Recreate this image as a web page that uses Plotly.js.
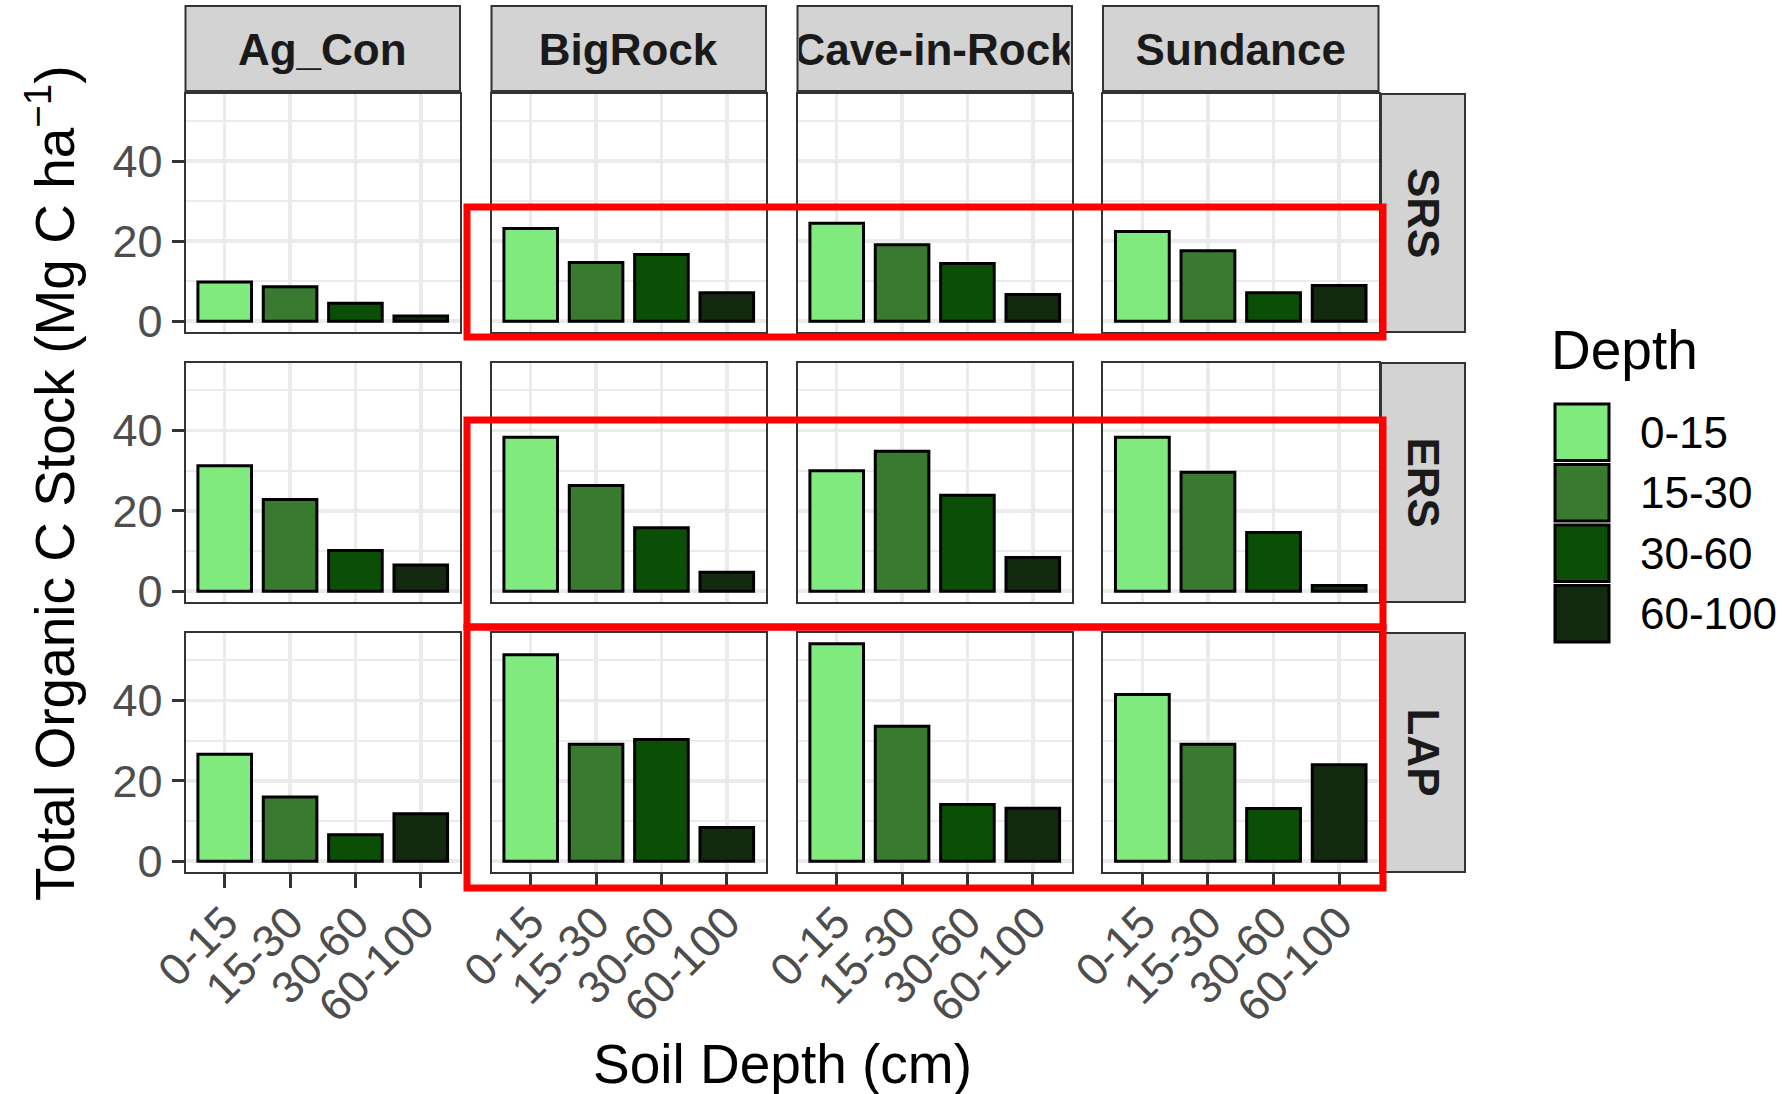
<!DOCTYPE html>
<html>
<head>
<meta charset="utf-8">
<script src="https://cdn.plot.ly/plotly-3.0.1.min.js"></script>
<style>html,body{margin:0;padding:0;background:#fff;}#chart{width:1785px;height:1094px;}</style>
</head>
<body>
<div id="chart"></div>
<script>
// ---- data ----
const depths = ['0-15', '15-30', '30-60', '60-100'];
const sites = ['Ag_Con', 'BigRock', 'Cave-in-Rock', 'Sundance'];
const treatments = ['SRS', 'ERS', 'LAP'];
const depthColors = ['#81ea7e', '#3a7a30', '#0a4f05', '#132a10'];

const SRS_AgCon = [9.8, 8.6, 4.5, 1.3];
const SRS_BigRock = [23.2, 14.7, 16.7, 7.1];
const SRS_CaveInRock = [24.5, 19.1, 14.4, 6.7];
const SRS_Sundance = [22.4, 17.6, 7.1, 8.9];

const ERS_AgCon = [31.2, 22.8, 10.1, 6.5];
const ERS_BigRock = [38.3, 26.3, 15.8, 4.7];
const ERS_CaveInRock = [30.0, 34.8, 23.9, 8.4];
const ERS_Sundance = [38.3, 29.6, 14.6, 1.4];

const LAP_AgCon = [26.6, 16.0, 6.6, 11.8];
const LAP_BigRock = [51.4, 29.1, 30.3, 8.4];
const LAP_CaveInRock = [54.1, 33.6, 14.1, 13.2];
const LAP_Sundance = [41.5, 29.1, 13.1, 24.0];

const yTicks = [0, 20, 40];
const yMinorTicks = [10, 30, 50];

const rowsData = [
  [SRS_AgCon, SRS_BigRock, SRS_CaveInRock, SRS_Sundance],
  [ERS_AgCon, ERS_BigRock, ERS_CaveInRock, ERS_Sundance],
  [LAP_AgCon, LAP_BigRock, LAP_CaveInRock, LAP_Sundance]
];

// ---- layout geometry (pixels) ----
const W = 1785, H = 1094;
const px = v => v / W;
const py = v => 1 - v / H;
const colPx = [[185.5, 460], [491.5, 766], [797.5, 1072], [1103, 1378.5]];
const rowPx = [[94, 332], [363, 602], [633, 872]];
const FONT = 'Liberation Sans, Arial, Helvetica, sans-serif';

const traces = [];
const layout = {
  width: W, height: H,
  margin: {l: 0, r: 0, t: 0, b: 0},
  paper_bgcolor: '#ffffff', plot_bgcolor: '#ffffff',
  showlegend: false,
  barmode: 'overlay',
  font: {family: FONT, color: '#000000'},
  shapes: [], annotations: []
};

for (let r = 0; r < 3; r++) {
  for (let c = 0; c < 4; c++) {
    const i = r * 4 + c;
    const sfx = i === 0 ? '' : String(i + 1);
    traces.push({
      type: 'bar',
      x: depths,
      y: rowsData[r][c],
      xaxis: 'x' + sfx,
      yaxis: 'y' + sfx,
      width: 0.82,
      marker: {color: depthColors, line: {color: '#000000', width: 3}},
      hoverinfo: 'x+y',
      showlegend: false
    });
    layout['xaxis' + sfx] = {
      domain: [px(colPx[c][0]), px(colPx[c][1])],
      anchor: 'y' + sfx,
      type: 'category',
      categoryorder: 'array', categoryarray: depths,
      range: [-0.6, 3.6],
      showgrid: true, gridcolor: '#ebebeb', gridwidth: 3.5,
      showline: true, mirror: true, linecolor: '#333333', linewidth: 2,
      ticks: r === 2 ? 'outside' : '', ticklen: 14, tickwidth: 3, tickcolor: '#333333',
      showticklabels: r === 2,
      tickangle: -45,
      ticklabelstandoff: -10,
      tickfont: {family: FONT, size: 45, color: '#4d4d4d'},
      zeroline: false, fixedrange: true
    };
    layout['yaxis' + sfx] = {
      domain: [py(rowPx[r][1]), py(rowPx[r][0])],
      anchor: 'x' + sfx,
      range: [-2.7, 56.8],
      tickmode: 'array', tickvals: yTicks, ticktext: yTicks.map(String),
      showgrid: true, gridcolor: '#ebebeb', gridwidth: 3.5,
      minor: {tickmode: 'array', tickvals: yMinorTicks, showgrid: true, gridcolor: '#ebebeb', gridwidth: 1.8, ticks: ''},
      showline: true, mirror: true, linecolor: '#333333', linewidth: 2,
      ticks: c === 0 ? 'outside' : '', ticklen: 12, tickwidth: 3, tickcolor: '#333333',
      showticklabels: c === 0,
      tickfont: {family: FONT, size: 45, color: '#4d4d4d'},
      zeroline: false, fixedrange: true
    };
  }
}

// strips (top)
for (let c = 0; c < 4; c++) {
  layout.shapes.push({type: 'rect', xref: 'paper', yref: 'paper',
    x0: px(colPx[c][0]), x1: px(colPx[c][1]), y0: py(91), y1: py(6),
    fillcolor: '#d3d3d3', line: {color: '#333333', width: 2}, layer: 'below'});
  layout.annotations.push({xref: 'paper', yref: 'paper',
    x: px((colPx[c][0] + colPx[c][1]) / 2), y: py(48.5), xanchor: 'center', yanchor: 'middle',
    text: '<b>' + sites[c] + '</b>', showarrow: false,
    width: colPx[c][1] - colPx[c][0] - 4, height: 70,
    font: {family: FONT, size: 44, color: '#1a1a1a'}});
}
// strips (right)
for (let r = 0; r < 3; r++) {
  layout.shapes.push({type: 'rect', xref: 'paper', yref: 'paper',
    x0: px(1381), x1: px(1465), y0: py(rowPx[r][1]), y1: py(rowPx[r][0]),
    fillcolor: '#d3d3d3', line: {color: '#333333', width: 2}, layer: 'below'});
  layout.annotations.push({xref: 'paper', yref: 'paper',
    x: px(1423), y: py((rowPx[r][0] + rowPx[r][1]) / 2), xanchor: 'center', yanchor: 'middle',
    text: '<b>' + treatments[r] + '</b>', showarrow: false, textangle: 90,
    font: {family: FONT, size: 44, color: '#1a1a1a'}});
}

// red highlight boxes
const redBoxes = [[207, 337], [420, 627], [627, 888]];
redBoxes.forEach(b => {
  layout.shapes.push({type: 'rect', xref: 'paper', yref: 'paper',
    x0: px(467), x1: px(1383), y0: py(b[1]), y1: py(b[0]),
    line: {color: '#ff0000', width: 7}, fillcolor: 'rgba(0,0,0,0)', layer: 'above'});
});

// axis titles
layout.annotations.push({xref: 'paper', yref: 'paper', x: px(51), y: py(483),
  xanchor: 'center', yanchor: 'middle', textangle: -90, showarrow: false,
  text: 'Total Organic C Stock (Mg C ha<sup>−1</sup>)',
  font: {family: FONT, size: 55, color: '#000000'}});
layout.annotations.push({xref: 'paper', yref: 'paper', x: px(782), y: py(1064),
  xanchor: 'center', yanchor: 'middle', showarrow: false,
  text: 'Soil Depth (cm)',
  font: {family: FONT, size: 55, color: '#000000'}});

// legend (drawn manually to match ggplot key size)
layout.annotations.push({xref: 'paper', yref: 'paper', x: px(1549), y: py(350),
  xanchor: 'left', yanchor: 'middle', showarrow: false, text: 'Depth',
  font: {family: FONT, size: 55, color: '#000000'}});
const keyTop = 402, keyH = 60.5;
depths.forEach((d, k) => {
  const y0 = keyTop + k * keyH;
  layout.shapes.push({type: 'rect', xref: 'paper', yref: 'paper',
    x0: px(1555), x1: px(1609), y0: py(y0 + keyH - 2), y1: py(y0 + 2),
    fillcolor: depthColors[k], line: {color: '#000000', width: 3}});
  layout.annotations.push({xref: 'paper', yref: 'paper', x: px(1638), y: py(y0 + keyH / 2),
    xanchor: 'left', yanchor: 'middle', showarrow: false, text: d,
    font: {family: FONT, size: 44, color: '#000000'}});
});

Plotly.newPlot('chart', traces, layout, {displayModeBar: false, staticPlot: true});
</script>
</body>
</html>
